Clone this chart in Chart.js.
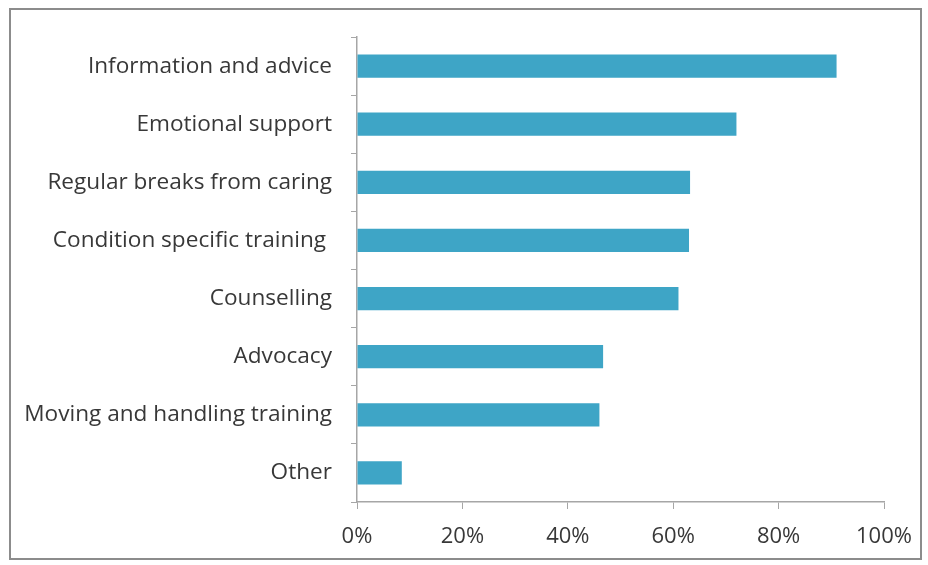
<!DOCTYPE html>
<html>
<head>
<meta charset="utf-8">
<script src="https://cdn.jsdelivr.net/npm/chart.js@4/dist/chart.umd.min.js"></script>
<style>
  body { margin: 0; background: #fff; }
  #wrap { position: relative; width: 928px; height: 565px; }
  #frame {
    position: absolute; left: 9px; top: 8px; width: 909px; height: 548px;
    border: 2px solid #8c8c8c; pointer-events: none;
  }
</style>
</head>
<body>
<div id="wrap">
  <canvas id="myChart" width="928" height="565"></canvas>
  <div id="frame"></div>
</div>
<script>
var categories = ["Information and advice", "Emotional support", "Regular breaks from caring",
                  "Condition specific training ", "Counselling", "Advocacy",
                  "Moving and handling training", "Other"];
var shares = [91, 72, 63.2, 63, 61, 46.7, 46, 8.5];
var xTicks = [0, 20, 40, 60, 80, 100];

var barColor = "#3ea5c6";
var axisColor = "#a6a6a6";
var textColor = "#383838";

new Chart("myChart", {
  type: "bar",
  data: {
    labels: categories,
    datasets: [{
      data: shares,
      backgroundColor: barColor,
      categoryPercentage: 1,
      barPercentage: 0.4
    }]
  },
  options: {
    indexAxis: "y",
    responsive: false,
    animation: false,
    layout: { padding: { top: 37, right: 44, bottom: 0, left: 0 } },
    plugins: {
      legend: { display: false },
      tooltip: { enabled: false }
    },
    scales: {
      x: {
        min: 0,
        max: 100,
        afterBuildTicks: function (axis) {
          axis.ticks = xTicks.map(function (v) { return { value: v }; });
        },
        afterFit: function (axis) { axis.height = 63; },
        grid: { drawOnChartArea: false, tickLength: 7, color: axisColor },
        border: { color: axisColor, width: 1.5 },
        ticks: {
          padding: 15,
          color: textColor,
          font: { family: "Open Sans", size: 22 },
          callback: function (v) { return v + "%"; }
        }
      },
      y: {
        afterFit: function (axis) { axis.width = 357; },
        grid: { drawOnChartArea: false, offset: true, tickLength: 6, color: axisColor },
        border: { color: axisColor, width: 1.5 },
        ticks: {
          padding: 19,
          color: textColor,
          font: { family: "Open Sans", size: 22.6 }
        }
      }
    }
  }
});
</script>
</body>
</html>
